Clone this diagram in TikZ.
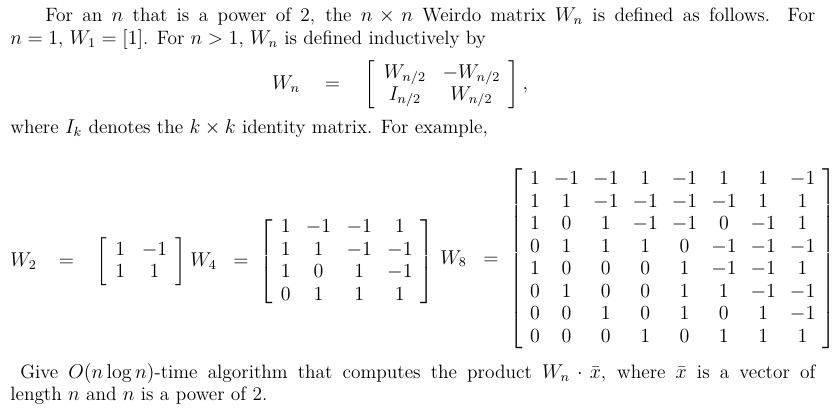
\documentclass[tikz,border=0pt]{standalone}
\usepackage{amsmath}
\begin{document}
\begin{tikzpicture}[x=0.6pt,y=-0.6pt,
  txt/.style={inner sep=0pt,anchor=base west,font=\fontsize{11.6}{13.5}\selectfont}]
\useasboundingbox (0,0) rectangle (835,419);
\node[txt,text width=483pt,align=justify] (p1) at (10,22) {\hspace*{21pt}For an $n$ that is a power of 2, the $n\times n$ Weirdo matrix $W_n$ is defined as follows. For\linebreak $n=1$, $W_1=[1]$. For $n>1$, $W_n$ is defined inductively by\hfill\null};
\node[txt,anchor=center] (eq) at (400,85) {$W_n \quad = \quad \left[\begin{array}{cc} W_{n/2} & -W_{n/2}\\ I_{n/2} & W_{n/2}\end{array}\right],$};
\node[txt] (p2) at (10,134) {where $I_k$ denotes the $k\times k$ identity matrix. For example,};
\node[txt,anchor=west] (m2) at (10,262) {$W_2 \;\;\; = \;\;\; \left[\begin{array}{cc}1&-1\\1&1\end{array}\right]$};
\node[txt,anchor=west] (m4) at (190,262) {$W_4 \;\; = \; \setlength{\arraycolsep}{4.6pt}\left[\begin{array}{cccc}1&-1&-1&1\\1&1&-1&-1\\1&0&1&-1\\0&1&1&1\end{array}\right]$};
\node[txt,anchor=west] (m8) at (440,259) {$W_8 \;\; = \; \setlength{\arraycolsep}{4.2pt}\left[\begin{array}{cccccccc}
1&-1&-1&1&-1&1&1&-1\\
1&1&-1&-1&-1&-1&1&1\\
1&0&1&-1&-1&0&-1&1\\
0&1&1&1&0&-1&-1&-1\\
1&0&0&0&1&-1&-1&1\\
0&1&0&0&1&1&-1&-1\\
0&0&1&0&1&0&1&-1\\
0&0&0&1&0&1&1&1\end{array}\right]$};
\node[txt,text width=483pt,align=justify] (p3) at (10,378) {\hspace*{6pt}Give $O(n\log n)$-time algorithm that computes the product $W_n\cdot\bar{x}$, where $\bar{x}$ is a vector of\linebreak length $n$ and $n$ is a power of 2.\hfill\null};
\end{tikzpicture}
\end{document}
